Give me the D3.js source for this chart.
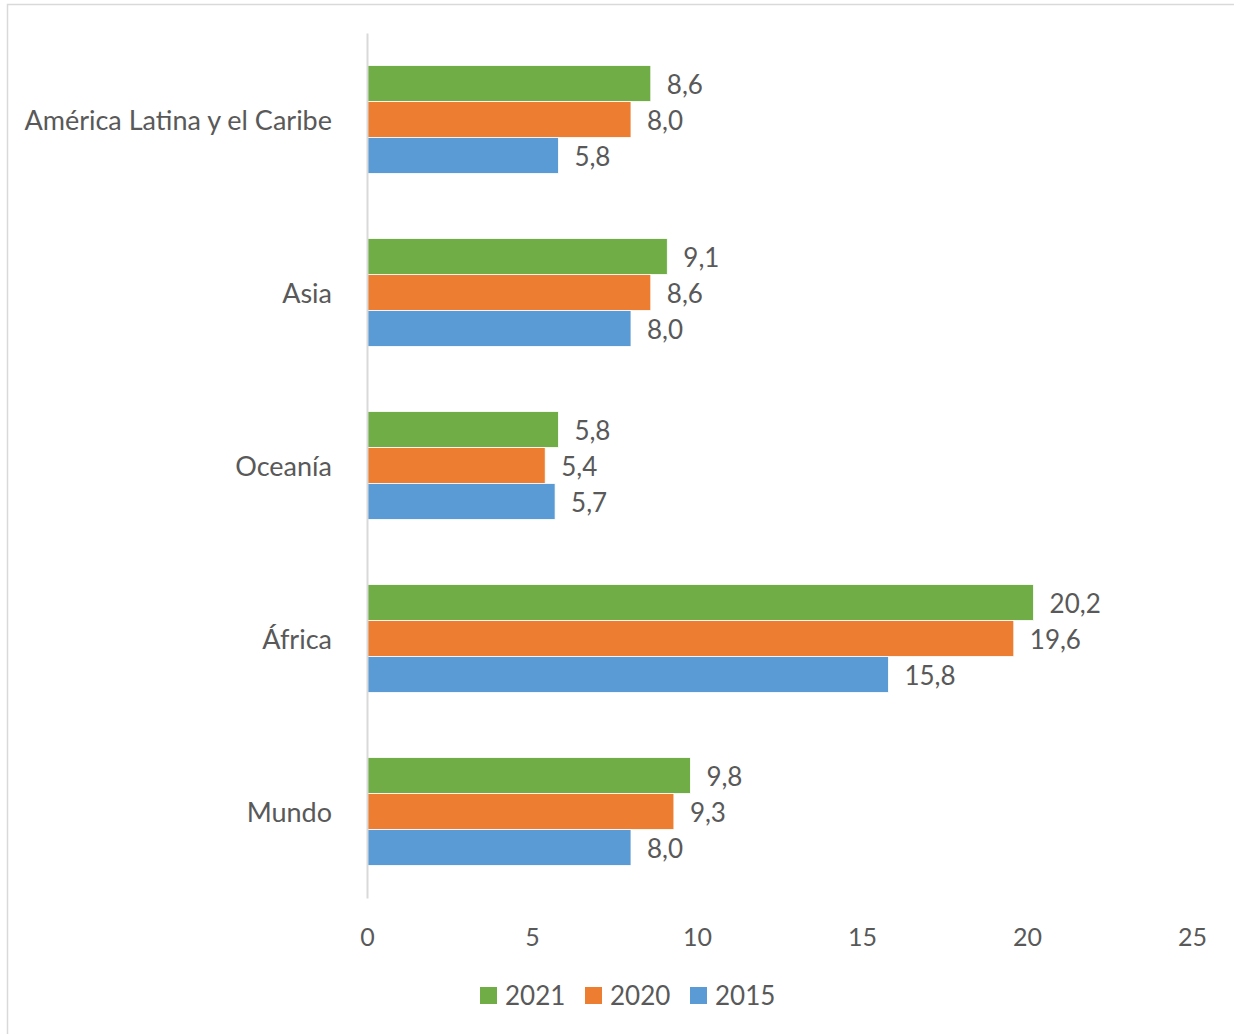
<!DOCTYPE html>
<html><head><meta charset="utf-8">
<script src="https://cdn.jsdelivr.net/npm/d3@7"></script>
<style>
html,body{margin:0;padding:0;background:#fff;}
svg{display:block;}
text{font-family:Lato,"Open Sans",sans-serif;fill:#595959;}
</style></head>
<body>
<svg id="chart" width="1234" height="1034"></svg>
<script>
const categories = ["América Latina y el Caribe","Asia","Oceanía","África","Mundo"];
const seriesNames = ["2021","2020","2015"];
const values2021 = [8.6, 9.1, 5.8, 20.2, 9.8];
const values2020 = [8.0, 8.6, 5.4, 19.6, 9.3];
const values2015 = [5.8, 8.0, 5.7, 15.8, 8.0];
const xTicks = [0,5,10,15,20,25];
const colors = ["#70AD47","#ED7D31","#5B9BD5"];

const seriesValues = [values2021, values2020, values2015];
const svg = d3.select("#chart");

// frame
svg.append("rect").attr("x",7.5).attr("y",4.5).attr("width",1240).attr("height",1040)
  .attr("fill","none").attr("stroke","#d9d9d9").attr("stroke-width",1.5);

const x = d3.scaleLinear().domain([0,25]).range([367,1192]);
const y0 = d3.scaleBand().domain(categories).range([33,898]).paddingInner(0.376).paddingOuter(0.188);
const y1 = d3.scaleBand().domain(seriesNames).range([0,y0.bandwidth()]);

const fmt = v => d3.format(".1f")(v).replace(".", ",");

const g = svg.append("g");
categories.forEach((c,i)=>{
  const grp = g.append("g").attr("transform",`translate(0,${y0(c)})`);
  seriesNames.forEach((s,j)=>{
    const v = seriesValues[j][i];
    grp.append("rect").attr("x",x(0)).attr("y",y1(s)).attr("width",x(v)-x(0)).attr("height",y1.bandwidth())
      .attr("fill",colors[j]).attr("stroke","#fff").attr("stroke-width",0.8);
    grp.append("text").attr("x",x(v)+16).attr("y",y1(s)+y1.bandwidth()/2+1.5).attr("dy","0.35em")
      .attr("font-size",26).text(fmt(v));
  });
});

// y axis
const yAxis = svg.append("g").attr("transform",`translate(${x(0)},0)`).call(d3.axisLeft(y0).tickSize(0).tickPadding(35));
yAxis.select(".domain").attr("stroke","#d9d9d9").attr("stroke-width",2);
yAxis.selectAll("text").attr("font-size",27).attr("fill","#595959").attr("font-family","Lato, 'Open Sans', sans-serif")
  .attr("y",2);

// x axis (labels only)
const xAxis = svg.append("g").attr("transform",`translate(0,898)`).call(d3.axisBottom(x).tickValues(xTicks).tickSize(0).tickPadding(30));
xAxis.select(".domain").remove();
xAxis.selectAll("text").attr("font-size",25).attr("fill","#595959").attr("font-family","Lato, 'Open Sans', sans-serif");

// legend
const legendX = [480, 585, 690];
seriesNames.forEach((s,j)=>{
  svg.append("rect").attr("x",legendX[j]).attr("y",987).attr("width",17).attr("height",17).attr("fill",colors[j]);
  svg.append("text").attr("x",legendX[j]+25).attr("y",996).attr("dy","0.35em").attr("font-size",26).text(s);
});
</script>
</body></html>
